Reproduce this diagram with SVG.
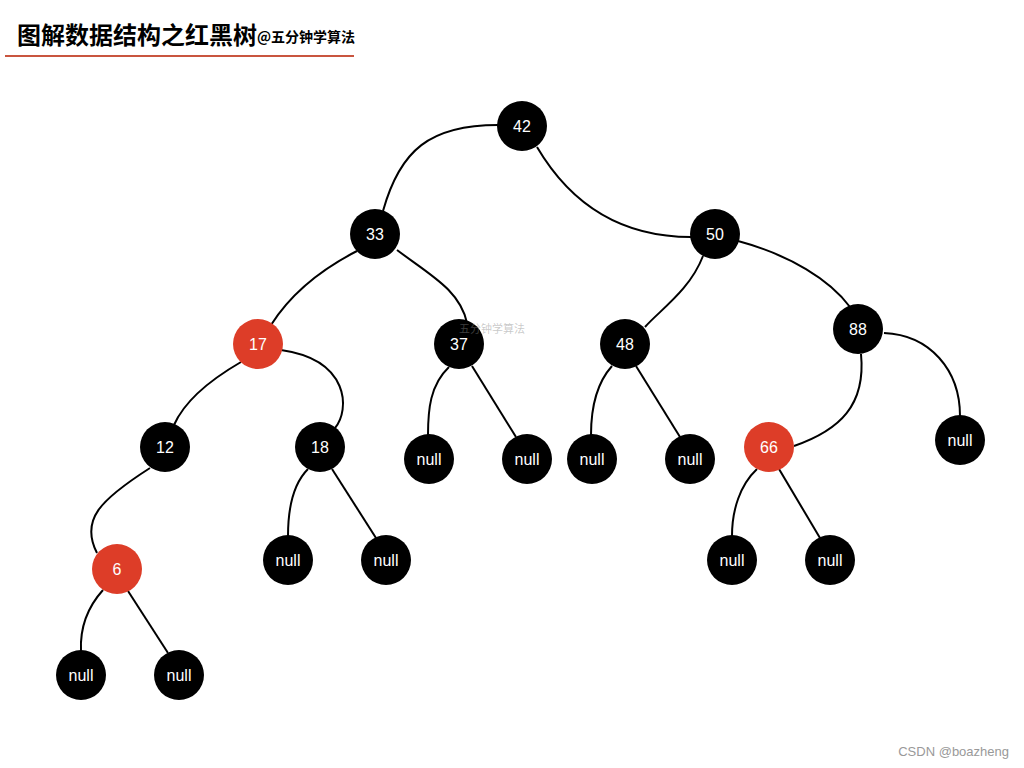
<svg xmlns="http://www.w3.org/2000/svg" width="1024" height="768" viewBox="0 0 1024 768">
<style>
.n circle{fill:#000}
.n.r circle{fill:#dd3d28}
.n text{fill:#fff;font-family:"Liberation Sans",Arial,sans-serif;font-size:16px;text-anchor:middle;dominant-baseline:central}
.e path{fill:none;stroke:#000;stroke-width:2}
</style>
<rect width="1024" height="768" fill="#fff"/>
<g id="title">
<text x="17" y="44" font-family="Noto Sans CJK SC,sans-serif" font-weight="bold" font-size="24" fill="#000">图解数据结构之红黑树</text>
<text x="257" y="42" font-family="Noto Sans CJK SC,sans-serif" font-weight="bold" font-size="14" fill="#000">@五分钟学算法</text>
<line x1="5" y1="56" x2="354" y2="56" stroke="#c9553f" stroke-width="2"/>
</g>
<g class="e" id="connectors">
<path d="M498,125 C430,125 400,150 383,211"/>
<path d="M537,147 C580,220 640,237 691,237"/>
<path d="M357,251 C320,270 290,295 271,325"/>
<path d="M397,250 C430,275 460,290 467,323"/>
<path d="M703,256 C690,290 660,310 645,327"/>
<path d="M738,241 C790,255 830,280 850,307"/>
<path d="M241,362 C210,380 185,400 174,425"/>
<path d="M281,350 C350,360 350,410 335,428"/>
<path d="M449,367 C430,385 428,410 428,435"/>
<path d="M472,366 L516,437"/>
<path d="M612,366 C595,385 591,410 591,435"/>
<path d="M636,366 L680,437"/>
<path d="M861,354 C866,405 840,430 794,446"/>
<path d="M884,333 C930,335 960,370 960,416"/>
<path d="M150,468 C100,500 80,520 97,553"/>
<path d="M308,469 C292,485 288,510 288,536"/>
<path d="M332,469 L376,538"/>
<path d="M757,469 C740,485 732,510 732,536"/>
<path d="M779,469 L820,538"/>
<path d="M103,590 C85,610 80,630 81,651"/>
<path d="M128,591 L168,653"/>
</g>
<g id="n42" class="n"><circle cx="522" cy="126" r="25"/><text x="522" y="126">42</text></g>
<g id="n33" class="n"><circle cx="375" cy="234" r="25"/><text x="375" y="234">33</text></g>
<g id="n50" class="n"><circle cx="715" cy="234" r="25"/><text x="715" y="234">50</text></g>
<g id="n17" class="n r"><circle cx="258" cy="344" r="25"/><text x="258" y="344">17</text></g>
<g id="n37" class="n"><circle cx="459" cy="344" r="25"/><text x="459" y="344">37</text></g>
<g id="n48" class="n"><circle cx="625" cy="344" r="25"/><text x="625" y="344">48</text></g>
<g id="n88" class="n"><circle cx="858" cy="329" r="25"/><text x="858" y="329">88</text></g>
<g id="n12" class="n"><circle cx="165" cy="447" r="25"/><text x="165" y="447">12</text></g>
<g id="n18" class="n"><circle cx="320" cy="447" r="25"/><text x="320" y="447">18</text></g>
<g id="null37L" class="n"><circle cx="429" cy="459" r="25"/><text x="429" y="459">null</text></g>
<g id="null37R" class="n"><circle cx="527" cy="459" r="25"/><text x="527" y="459">null</text></g>
<g id="null48L" class="n"><circle cx="592" cy="459" r="25"/><text x="592" y="459">null</text></g>
<g id="null48R" class="n"><circle cx="690" cy="459" r="25"/><text x="690" y="459">null</text></g>
<g id="n66" class="n r"><circle cx="769" cy="447" r="25"/><text x="769" y="447">66</text></g>
<g id="null88R" class="n"><circle cx="960" cy="440" r="25"/><text x="960" y="440">null</text></g>
<g id="n6" class="n r"><circle cx="117" cy="569" r="25"/><text x="117" y="569">6</text></g>
<g id="null18L" class="n"><circle cx="288" cy="560" r="25"/><text x="288" y="560">null</text></g>
<g id="null18R" class="n"><circle cx="386" cy="560" r="25"/><text x="386" y="560">null</text></g>
<g id="null66L" class="n"><circle cx="732" cy="560" r="25"/><text x="732" y="560">null</text></g>
<g id="null66R" class="n"><circle cx="830" cy="560" r="25"/><text x="830" y="560">null</text></g>
<g id="null6L" class="n"><circle cx="81" cy="675" r="25"/><text x="81" y="675">null</text></g>
<g id="null6R" class="n"><circle cx="179" cy="675" r="25"/><text x="179" y="675">null</text></g>
<g id="watermark">
<text x="459" y="333" font-family="Noto Sans CJK SC,sans-serif" font-size="11" fill="#888" fill-opacity="0.45">五分钟学算法</text>
<text x="1009" y="756" text-anchor="end" font-family="Liberation Sans,Arial,sans-serif" font-size="13" fill="#999">CSDN @boazheng</text>
</g>
</svg>
